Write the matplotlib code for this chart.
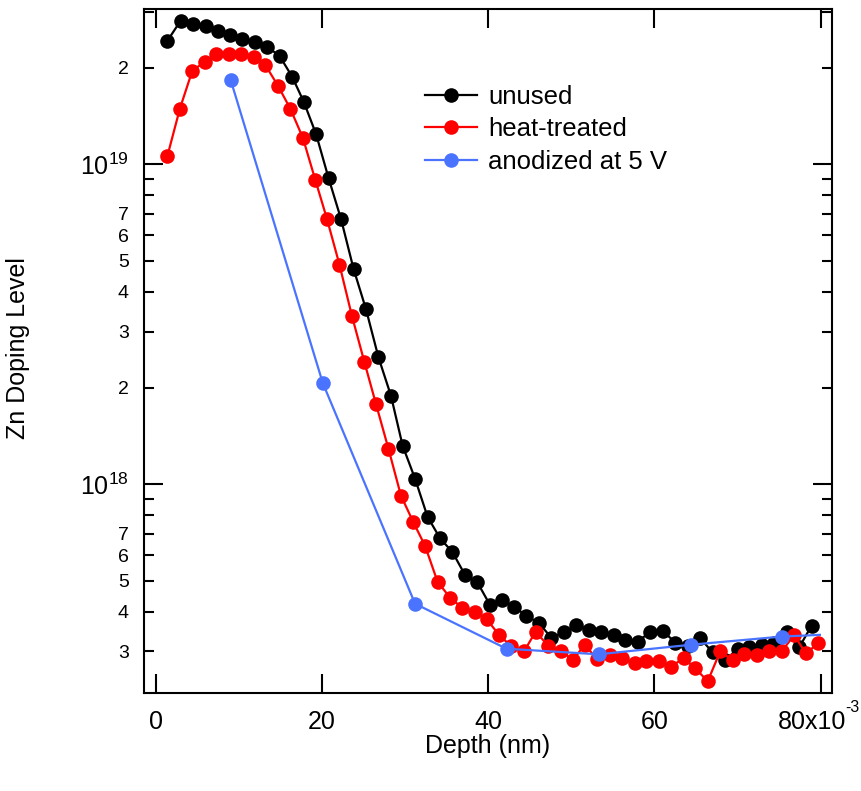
import matplotlib
matplotlib.use("Agg")
import matplotlib.pyplot as plt
import matplotlib.transforms as mtransforms
from matplotlib.patches import Rectangle
from matplotlib.ticker import FixedLocator, FuncFormatter, NullLocator
import numpy as np

plt.rcParams['font.family'] = ['Liberation Sans', 'DejaVu Sans']
plt.rcParams['mathtext.fontset'] = 'custom'
plt.rcParams['mathtext.rm'] = 'Liberation Sans'
plt.rcParams['mathtext.it'] = 'Liberation Sans:italic'
plt.rcParams['mathtext.bf'] = 'Liberation Sans:bold'

# depth (axis is in units of 1e-3) and Zn doping level
depth_unused = [1.4, 3.0, 4.5, 6.0, 7.5, 8.9, 10.4, 11.9, 13.4, 14.9, 16.4, 17.8,
                19.3, 20.8, 22.3, 23.8, 25.3, 26.8, 28.3, 29.7, 31.2, 32.7, 34.2,
                35.7, 37.2, 38.7, 40.2, 41.7, 43.1, 44.6, 46.1, 47.6, 49.1, 50.6,
                52.1, 53.6, 55.1, 56.5, 58.0, 59.5, 61.0, 62.5, 64.0, 65.5, 67.0,
                68.5, 70.0, 71.4, 72.9, 74.4, 75.9, 77.4, 78.9]
zn_unused = [2.43e19, 2.81e19, 2.74e19, 2.71e19, 2.61e19, 2.54e19, 2.47e19, 2.41e19,
             2.33e19, 2.18e19, 1.88e19, 1.57e19, 1.24e19, 9.04e18, 6.73e18, 4.71e18,
             3.52e18, 2.49e18, 1.89e18, 1.32e18, 1.04e18, 7.91e17, 6.78e17, 6.13e17,
             5.21e17, 4.93e17, 4.20e17, 4.35e17, 4.14e17, 3.88e17, 3.68e17, 3.31e17,
             3.44e17, 3.63e17, 3.51e17, 3.44e17, 3.38e17, 3.26e17, 3.22e17, 3.46e17,
             3.48e17, 3.20e17, 3.11e17, 3.30e17, 2.98e17, 2.82e17, 3.05e17, 3.09e17,
             3.15e17, 3.20e17, 3.46e17, 3.09e17, 3.61e17]

depth_heat = [1.4, 2.9, 4.4, 5.9, 7.3, 8.8, 10.3, 11.8, 13.2, 14.7, 16.2, 17.7,
              19.2, 20.6, 22.1, 23.6, 25.1, 26.5, 28.0, 29.5, 31.0, 32.4, 33.9,
              35.4, 36.9, 38.4, 39.8, 41.3, 42.8, 44.3, 45.7, 47.2, 48.7, 50.2,
              51.6, 53.1, 54.6, 56.1, 57.6, 59.0, 60.5, 62.0, 63.5, 64.9, 66.4,
              67.9, 69.4, 70.8, 72.3, 73.8, 75.3, 76.8, 78.2, 79.7]
zn_heat = [1.06e19, 1.49e19, 1.96e19, 2.09e19, 2.21e19, 2.21e19, 2.21e19, 2.17e19,
           2.04e19, 1.76e19, 1.49e19, 1.21e19, 8.93e18, 6.75e18, 4.86e18, 3.36e18,
           2.41e18, 1.78e18, 1.29e18, 9.21e17, 7.60e17, 6.42e17, 4.96e17, 4.42e17,
           4.10e17, 4.00e17, 3.79e17, 3.38e17, 3.11e17, 3.00e17, 3.46e17, 3.13e17,
           3.02e17, 2.82e17, 3.15e17, 2.84e17, 2.93e17, 2.86e17, 2.76e17, 2.81e17,
           2.81e17, 2.69e17, 2.86e17, 2.66e17, 2.42e17, 3.00e17, 2.82e17, 2.95e17,
           2.93e17, 3.00e17, 3.00e17, 3.38e17, 2.96e17, 3.18e17]

depth_anod = [9.0, 20.1, 31.2, 42.2, 53.3, 64.4, 75.3, 86.4]
zn_anod = [1.84e19, 2.07e18, 4.23e17, 3.06e17, 2.94e17, 3.15e17, 3.34e17, 3.44e17]

x_ticks = [0, 20, 40, 60, 80]
x_ticklabels = ['0', '20', '40', '60', '']

BLUE = '#4a74ff'

fig = plt.figure(figsize=(8.61, 7.91), dpi=100)
ax = fig.add_axes([144 / 861, 1 - 692.7 / 791, 687.7 / 861, 683.4 / 791])

kw = dict(marker='o', lw=1.6, ms=10.5, markeredgewidth=0)
ax.plot(depth_unused, zn_unused, color='black', label='unused', **kw)
ax.plot(depth_heat, zn_heat, color='red', label='heat-treated', **kw)
blue, = ax.plot(depth_anod, zn_anod, color=BLUE, label='anodized at 5 V', **kw)
# the line stops at the end of the axis range (80)
xdata_yaxes = mtransforms.blended_transform_factory(ax.transData, ax.transAxes)
blue.set_clip_path(Rectangle((0, 0), 80, 1, transform=xdata_yaxes))

ax.set_yscale('log')
ax.set_xlim(-1.41, 81.32)
ax.set_ylim(2.23e17, 3.05e19)

ax.xaxis.set_major_locator(FixedLocator(x_ticks))
ax.set_xticklabels(x_ticklabels)
ax.xaxis.set_minor_locator(NullLocator())

# last x label with Igor-style multiplier
ax.text(78.9, -0.0255, '80x10', transform=xdata_yaxes, ha='center', va='top',
        fontsize=18)
ax.text(83.0, -0.010, '-3', transform=xdata_yaxes, ha='left', va='top',
        fontsize=11.5)

ax.yaxis.set_major_locator(FixedLocator([1e17, 1e18, 1e19, 1e20]))
ax.yaxis.set_major_formatter(FuncFormatter(lambda v, p: r'$10^{%d}$' % round(np.log10(v))))
minors = [m * 10.0 ** e for e in (17, 18, 19) for m in range(2, 10)]
ax.yaxis.set_minor_locator(FixedLocator(minors))


def minor_fmt(v, p):
    m = v / 10 ** np.floor(np.log10(v) + 1e-9)
    m = int(round(m))
    if 2 <= m <= 7 and v < 2.5e19:
        return str(m)
    return ''


ax.yaxis.set_minor_formatter(FuncFormatter(minor_fmt))

for s in ax.spines.values():
    s.set_linewidth(1.5)
ax.tick_params(which='both', direction='in', top=True, right=True, width=1.5)
ax.tick_params(which='major', length=13.5)
ax.tick_params(which='minor', length=7)
ax.tick_params(axis='x', which='major', labelsize=18, pad=12.8)
ax.tick_params(axis='y', which='major', labelsize=18, pad=11)
ax.tick_params(axis='y', which='minor', labelsize=14, pad=11)

ax.set_xlabel('Depth (nm)', fontsize=18)
ax.xaxis.set_label_coords(0.5, -0.06)
ax.set_ylabel('Zn Doping Level', fontsize=18)
ax.yaxis.set_label_coords(-0.166, 0.504)

ax.legend(loc='upper left', bbox_to_anchor=(0.4086, 0.889), frameon=False,
          fontsize=18.5, handlelength=2.02, handletextpad=0.43, labelspacing=0.32,
          borderaxespad=0, borderpad=0)

fig.savefig('out.png', dpi=100)
